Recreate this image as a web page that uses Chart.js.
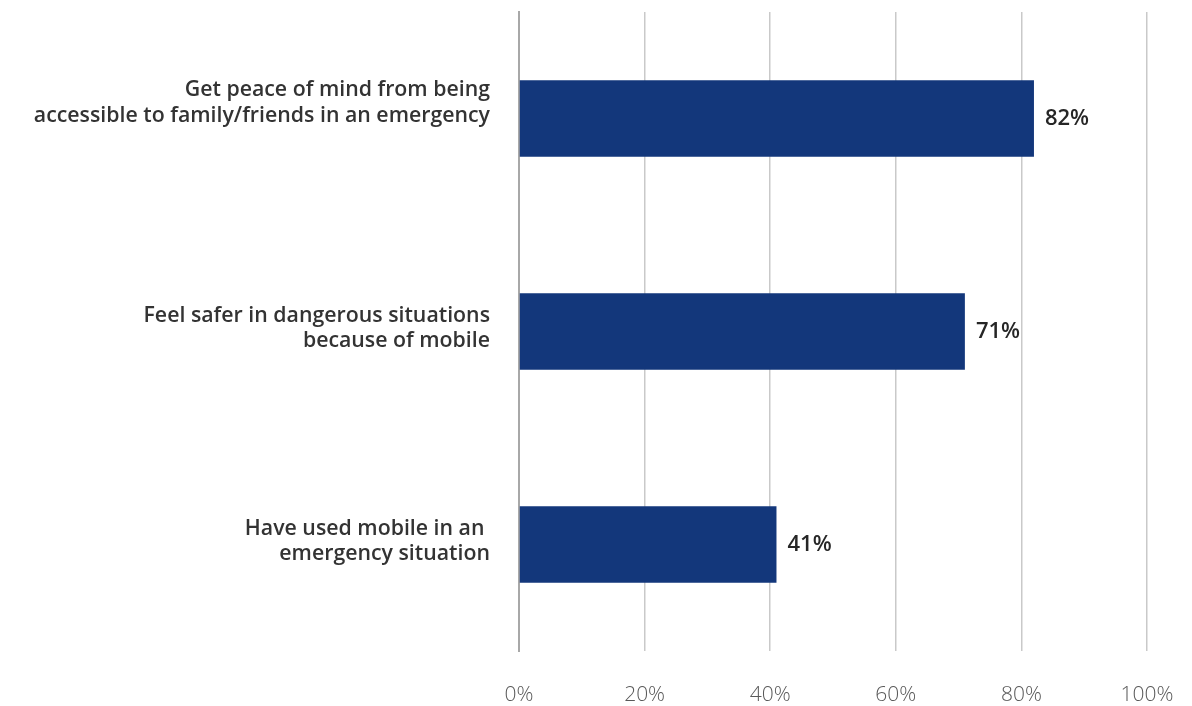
<!DOCTYPE html>
<html>
<head>
<meta charset="utf-8">
<script src="https://cdn.jsdelivr.net/npm/chart.js@4/dist/chart.umd.min.js"></script>
<style>
  html, body { margin: 0; padding: 0; background: #fff; }
  #wrap { width: 1192px; height: 706px; }
</style>
</head>
<body>
<div id="wrap"><canvas id="c"></canvas></div>
<script>
// survey answers, top to bottom (first label carries a trailing line break)
const categories = [
  ['Get peace of mind from being', 'accessible to family/friends in an emergency', ''],
  ['Feel safer in dangerous situations', 'because of mobile'],
  ['Have used mobile in an ', 'emergency situation']
]
const values = [82, 71, 41]
const xTicks = [0, 20, 40, 60, 80, 100]

// writes "82%" etc. just right of each bar end
const valueLabels = {
  id: 'valueLabels',
  afterDatasetsDraw(chart) {
    const ctx = chart.ctx
    const meta = chart.getDatasetMeta(0)
    ctx.save()
    ctx.font = '600 22px "Open Sans"'
    ctx.fillStyle = '#262626'
    ctx.textAlign = 'left'
    ctx.textBaseline = 'middle'
    meta.data.forEach((bar, i) => {
      ctx.fillText(values[i] + '%', bar.x + 11, bar.y)
    })
    ctx.restore()
  }
}

const ctx = document.getElementById('c').getContext('2d')
new Chart(ctx, {
  type: 'bar',
  data: {
    labels: categories,
    datasets: [{
      data: values,
      backgroundColor: '#13377b',
      categoryPercentage: 1,
      barPercentage: 0.36
    }]
  },
  options: {
    indexAxis: 'y',
    responsive: true,
    maintainAspectRatio: false,
    animation: false,
    layout: { padding: { top: 12, right: 45, left: 0, bottom: 0 } },
    plugins: {
      legend: { display: false },
      tooltip: { enabled: false }
    },
    scales: {
      x: {
        min: 0,
        max: 100,
        afterBuildTicks: (scale) => { scale.ticks = xTicks.map(v => ({ value: v })) },
        afterFit: (scale) => {
          scale.height = 55
          scale.paddingLeft = 0
          scale.paddingRight = 0
        },
        grid: { color: '#c9c9c9', lineWidth: 1.5, drawTicks: false },
        border: { display: false },
        ticks: {
          padding: 31,
          color: '#595959',
          font: { family: 'Open Sans', size: 21, weight: '300' },
          callback: (v) => v + '%'
        }
      },
      y: {
        afterFit: (scale) => {
          scale.width = 519
          scale.paddingTop = 0
          scale.paddingBottom = 0
        },
        grid: { display: false, drawTicks: false },
        border: { display: true, color: '#a8a8a8', width: 2 },
        ticks: {
          padding: 29,
          labelOffset: -3,
          color: '#333333',
          font: { family: 'Open Sans', size: 21.3, weight: '600', lineHeight: 1.2 }
        }
      }
    }
  },
  plugins: [valueLabels]
})
</script>
</body>
</html>
